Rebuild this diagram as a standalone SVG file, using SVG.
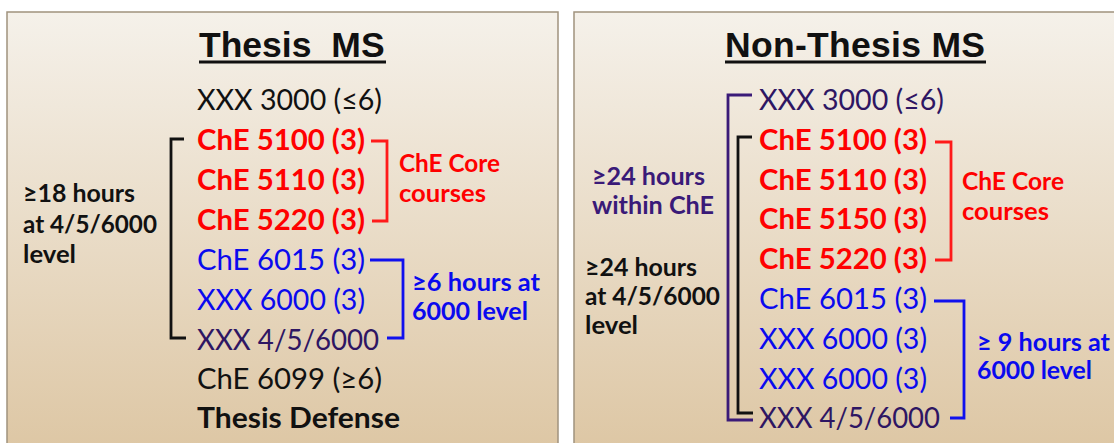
<svg xmlns="http://www.w3.org/2000/svg" width="1114" height="443" viewBox="0 0 1114 443">
<defs>
<linearGradient id="bg" x1="0" y1="0" x2="0" y2="1">
<stop offset="0" stop-color="#f5f1ea"/>
<stop offset="1" stop-color="#ddc6a3"/>
</linearGradient>
<style>
.panel{fill:url(#bg);stroke:#a0927e;stroke-width:1.5}
.title{font-family:"Liberation Sans",Arial,sans-serif;font-weight:bold;font-size:35.5px;fill:#111}
.c{font-family:Lato,"Open Sans",sans-serif;font-size:28.5px}
.cb{font-family:Lato,"Open Sans",sans-serif;font-size:28.5px;font-weight:bold}
.lb{font-family:Lato,"Open Sans",sans-serif;font-size:24px;font-weight:bold}
.k{fill:#111}
.r{fill:#ff0000}
.b{fill:#0a0aee}
.p{fill:#2e1663}
.pl{fill:#3a1a78}
.br{fill:none;stroke-width:2.8;stroke-linejoin:miter}
</style>
</defs>
<rect width="1114" height="443" fill="#ffffff"/>
<rect class="panel" x="7" y="12" width="551" height="445"/>
<rect class="panel" x="574" y="12" width="550" height="445"/>

<g id="connectors">
<path class="br" stroke="#111" stroke-width="3" d="M184,139 H171 V338 H186"/>
<path class="br" stroke="#ff1a1a" d="M371,141 H387 V221 H372"/>
<path class="br" stroke="#1010ee" d="M370,260 H403 V338 H387"/>
<path class="br" stroke="#3a1a78" d="M752,95 H728 V420 H753"/>
<path class="br" stroke="#111" d="M752,137 H738 V413 H753"/>
<path class="br" stroke="#ff1a1a" d="M935,142 H951 V260 H935"/>
<path class="br" stroke="#1010ee" d="M934,301 H964 V418 H950"/>
</g>

<g id="thesis-title">
<text class="title" x="199" y="57" word-spacing="10">Thesis MS</text>
<rect x="199" y="60.5" width="187" height="3" fill="#111"/>
</g>
<g id="thesis-courses">
<text class="c k" x="197" y="110" textLength="185" lengthAdjust="spacingAndGlyphs">XXX 3000 (≤6)</text>
<text class="cb r" x="197" y="150" textLength="168" lengthAdjust="spacingAndGlyphs">ChE 5100 (3)</text>
<text class="cb r" x="197" y="190" textLength="168" lengthAdjust="spacingAndGlyphs">ChE 5110 (3)</text>
<text class="cb r" x="197" y="230" textLength="168" lengthAdjust="spacingAndGlyphs">ChE 5220 (3)</text>
<text class="c b" x="197" y="270" textLength="168" lengthAdjust="spacingAndGlyphs">ChE 6015 (3)</text>
<text class="c b" x="197" y="310" textLength="168" lengthAdjust="spacingAndGlyphs">XXX 6000 (3)</text>
<text class="c p" x="197" y="350" textLength="182" lengthAdjust="spacingAndGlyphs">XXX 4/5/6000</text>
<text class="c k" x="197" y="389" textLength="185" lengthAdjust="spacingAndGlyphs">ChE 6099 (≥6)</text>
<text class="cb k" x="197" y="428" textLength="203" lengthAdjust="spacingAndGlyphs">Thesis Defense</text>
</g>
<g id="thesis-level-label">
<text class="lb k" x="23" y="202" textLength="112" lengthAdjust="spacingAndGlyphs">≥18 hours</text>
<text class="lb k" x="23" y="233" textLength="134" lengthAdjust="spacingAndGlyphs">at 4/5/6000</text>
<text class="lb k" x="23" y="263" textLength="53" lengthAdjust="spacingAndGlyphs">level</text>
</g>
<g id="thesis-core-label">
<text class="lb r" x="399" y="172" textLength="101" lengthAdjust="spacingAndGlyphs">ChE Core</text>
<text class="lb r" x="399" y="202" textLength="87" lengthAdjust="spacingAndGlyphs">courses</text>
</g>
<g id="thesis-6000-label">
<text class="lb b" x="412" y="291" textLength="128" lengthAdjust="spacingAndGlyphs">≥6 hours at</text>
<text class="lb b" x="412" y="320" textLength="116" lengthAdjust="spacingAndGlyphs">6000 level</text>
</g>

<g id="nonthesis-title">
<text class="title" x="725" y="57" textLength="260" lengthAdjust="spacing">Non-Thesis MS</text>
<rect x="725" y="60.5" width="261" height="3" fill="#111"/>
</g>
<g id="nonthesis-courses">
<text class="c p" x="759" y="110" textLength="185" lengthAdjust="spacingAndGlyphs">XXX 3000 (≤6)</text>
<text class="cb r" x="759" y="150" textLength="168" lengthAdjust="spacingAndGlyphs">ChE 5100 (3)</text>
<text class="cb r" x="759" y="190" textLength="168" lengthAdjust="spacingAndGlyphs">ChE 5110 (3)</text>
<text class="cb r" x="759" y="229" textLength="168" lengthAdjust="spacingAndGlyphs">ChE 5150 (3)</text>
<text class="cb r" x="759" y="269" textLength="168" lengthAdjust="spacingAndGlyphs">ChE 5220 (3)</text>
<text class="c b" x="759" y="309" textLength="168" lengthAdjust="spacingAndGlyphs">ChE 6015 (3)</text>
<text class="c b" x="759" y="349" textLength="168" lengthAdjust="spacingAndGlyphs">XXX 6000 (3)</text>
<text class="c b" x="759" y="389" textLength="168" lengthAdjust="spacingAndGlyphs">XXX 6000 (3)</text>
<text class="c p" x="759" y="428" textLength="181" lengthAdjust="spacingAndGlyphs">XXX 4/5/6000</text>
</g>
<g id="nonthesis-che-label">
<text class="lb pl" x="592" y="185" textLength="113" lengthAdjust="spacingAndGlyphs">≥24 hours</text>
<text class="lb pl" x="592" y="214" textLength="122" lengthAdjust="spacingAndGlyphs">within ChE</text>
</g>
<g id="nonthesis-level-label">
<text class="lb k" x="585" y="276" textLength="112" lengthAdjust="spacingAndGlyphs">≥24 hours</text>
<text class="lb k" x="585" y="305" textLength="135" lengthAdjust="spacingAndGlyphs">at 4/5/6000</text>
<text class="lb k" x="585" y="334" textLength="53" lengthAdjust="spacingAndGlyphs">level</text>
</g>
<g id="nonthesis-core-label">
<text class="lb r" x="962" y="190" textLength="102" lengthAdjust="spacingAndGlyphs">ChE Core</text>
<text class="lb r" x="962" y="220" textLength="87" lengthAdjust="spacingAndGlyphs">courses</text>
</g>
<g id="nonthesis-6000-label">
<text class="lb b" x="977" y="351" textLength="133" lengthAdjust="spacingAndGlyphs">≥ 9 hours at</text>
<text class="lb b" x="977" y="379" textLength="115" lengthAdjust="spacingAndGlyphs">6000 level</text>
</g>
</svg>
